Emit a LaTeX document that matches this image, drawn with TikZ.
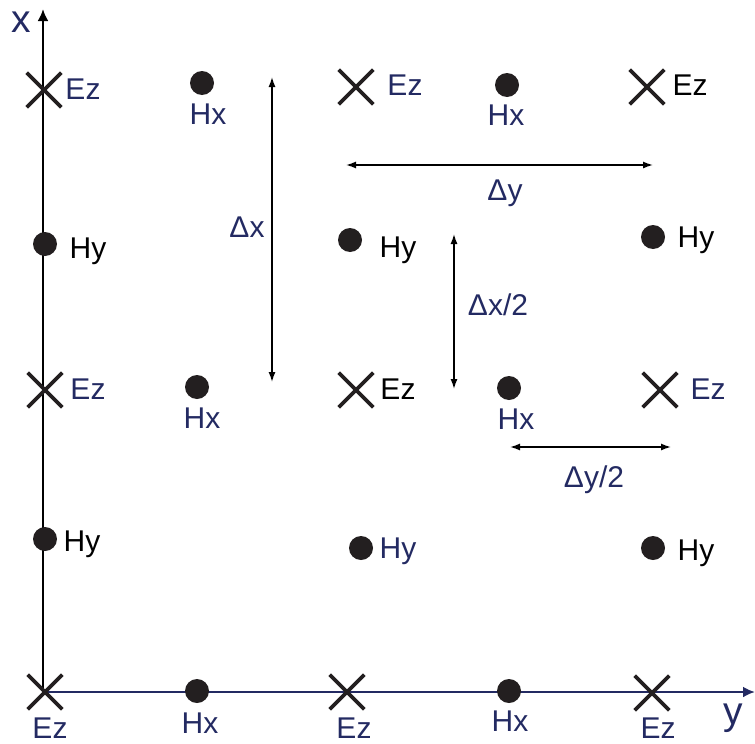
\documentclass[tikz,border=0pt]{standalone}
\usepackage{fontspec}
\setmainfont{Liberation Sans}
\usetikzlibrary{shapes.misc,arrows.meta}
\definecolor{navy}{RGB}{35,42,98}
\definecolor{ink}{RGB}{35,31,32}
\begin{document}
\begin{tikzpicture}[x=1pt,y=-1pt,
  crossmark/.style={cross out, draw=ink, line width=3.6pt, minimum size=31pt, inner sep=0pt},
  dotmark/.style={circle, fill=ink, minimum size=24pt, inner sep=0pt},
  lab/.style={anchor=base, font=\fontsize{30}{36}\selectfont, inner sep=0pt},
  nv/.style={lab, text=navy},
  bk/.style={lab, text=black},
  axlab/.style={anchor=base, font=\fontsize{39}{46}\selectfont, inner sep=0pt, text=navy},
  dimarrow/.style={{Latex[length=10pt,width=7pt]}-{Latex[length=10pt,width=7pt]}, line width=1.4pt, draw=black},
  axisarrow/.style={-{Latex[length=12pt,width=11pt]}, line width=2.8pt}
]
\useasboundingbox (0,0) rectangle (755,744);

% axes
\coordinate (O) at (43,692);
\coordinate (xend) at (43,9);
\coordinate (yend) at (755,692);
\draw[axisarrow, draw=black, fill=black] (O) -- (xend);
\draw[axisarrow, draw=navy, fill=navy] (O) -- (yend);
\node[axlab] (xlab) at (21.5,32) {x};
\node[axlab] (ylab) at (733,724) {y};

% Ez crosses
\node[crossmark] (e11) at (44,90) {};
\node[crossmark] (e12) at (356,87) {};
\node[crossmark] (e13) at (647,87) {};
\node[crossmark] (e21) at (45,390) {};
\node[crossmark] (e22) at (356,390) {};
\node[crossmark] (e23) at (660,390) {};
\node[crossmark] (e31) at (45,692) {};
\node[crossmark] (e32) at (347,692) {};
\node[crossmark] (e33) at (652,693) {};

% H dots
\node[dotmark] (hx11) at (202,83) {};
\node[dotmark] (hx12) at (507,85) {};
\node[dotmark] (hy11) at (45,244) {};
\node[dotmark] (hy12) at (350,240) {};
\node[dotmark] (hy13) at (653,237) {};
\node[dotmark] (hx21) at (197,387) {};
\node[dotmark] (hx22) at (509,388) {};
\node[dotmark] (hy21) at (45,539) {};
\node[dotmark] (hy22) at (361,548) {};
\node[dotmark] (hy23) at (653,548) {};
\node[dotmark] (hx31) at (197,691) {};
\node[dotmark] (hx32) at (509,691) {};

% labels
\node[nv] (le11) at (83,99) {Ez};
\node[nv] (lhx11) at (208,124) {Hx};
\node[nv] (le12) at (405,95) {Ez};
\node[nv] (lhx12) at (506,125) {Hx};
\node[bk] (le13) at (690,95) {Ez};
\node[bk] (lhy11) at (88,258) {Hy};
\node[bk] (lhy12) at (398,257) {Hy};
\node[bk] (lhy13) at (696,247) {Hy};
\node[nv] (le21) at (88,399) {Ez};
\node[nv] (lhx21) at (202,428) {Hx};
\node[bk] (le22) at (398,399) {Ez};
\node[nv] (lhx22) at (516,429) {Hx};
\node[nv] (le23) at (708,399) {Ez};
\node[bk] (lhy21) at (82,551) {Hy};
\node[nv] (lhy22) at (398,558) {Hy};
\node[bk] (lhy23) at (696,560) {Hy};
\node[nv] (le31) at (50,738) {Ez};
\node[nv] (lhx31) at (200,733) {Hx};
\node[nv] (le32) at (354,738) {Ez};
\node[nv] (lhx32) at (510,731) {Hx};
\node[nv] (le33) at (658,738) {Ez};

% dimension arrows
\coordinate (dxa) at (272,77);
\coordinate (dxb) at (272,382);
\draw[dimarrow] (dxa) -- (dxb);
\node[nv] (ldx) at (247,237) {Δx};

\coordinate (dya) at (346,165);
\coordinate (dyb) at (653,165);
\draw[dimarrow] (dya) -- (dyb);
\node[nv] (ldy) at (505,200) {Δy};

\coordinate (dx2a) at (454,234);
\coordinate (dx2b) at (454,389);
\draw[dimarrow] (dx2a) -- (dx2b);
\node[nv] (ldx2) at (498,315) {Δx/2};

\coordinate (dy2a) at (510,447);
\coordinate (dy2b) at (671,447);
\draw[dimarrow] (dy2a) -- (dy2b);
\node[nv] (ldy2) at (594,487) {Δy/2};
\end{tikzpicture}
\end{document}
